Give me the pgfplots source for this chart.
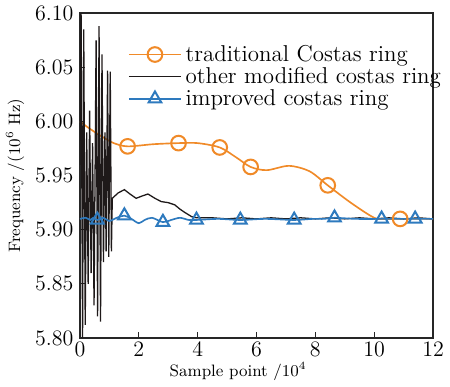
\documentclass[border=0pt]{standalone}
\usepackage{pgfplots}
\pgfplotsset{compat=1.18}
\definecolor{corange}{RGB}{240,138,40}
\definecolor{cblue}{RGB}{46,122,190}
\definecolor{cblack}{RGB}{30,25,25}
\begin{document}
\begin{tikzpicture}
\begin{axis}[
  scale only axis,
  width=192.5pt, height=177pt,
  xmin=0, xmax=12, ymin=5.80, ymax=6.10,
  xtick={0,2,...,12},
  ytick={5.80,5.85,5.90,5.95,6.00,6.05,6.10},
  yticklabel style={/pgf/number format/.cd,fixed,fixed zerofill,precision=2},
  tick align=inside, tick pos=left,
  major tick length=3pt,
  axis line style={line width=0.8pt, black!85},
  tick style={line width=0.7pt, black!85},
  ticklabel style={font=\fontsize{13}{15}\selectfont},
  xticklabel style={yshift=1pt},
  xlabel={Sample point /10$^4$},
  ylabel={Frequency /(10$^6$ Hz)},
  label style={font=\fontsize{9}{11}\selectfont},
  xlabel style={yshift=4pt, xshift=-10pt},
  ylabel style={yshift=-1pt},
  legend style={draw=none, fill=none, at={(0.13,0.92)}, anchor=north west,
    font=\fontsize{12.5}{13}\selectfont, row sep=-2.2pt, inner sep=1pt},
  legend cell align=left,
  legend image code/.code={
    \draw[mark repeat=2,mark phase=2] plot coordinates {(0cm,0cm)(0.5cm,0cm)(1cm,0cm)};},
]
% traditional Costas ring
\addplot[corange, line width=0.9pt, smooth, tension=0.5, forget plot,
  mark=o, mark size=4pt, mark options={line width=1.1pt, solid},
  mark indices={5,7,9,11,15,19}] coordinates {
(0,6.000)(0.35,5.993)(0.75,5.986)(1.15,5.980)(1.62,5.977)(2.5,5.979)(3.35,5.980)(4.0,5.980)(4.75,5.976)(5.3,5.967)(5.8,5.958)(6.35,5.955)(7.1,5.959)(7.8,5.954)(8.42,5.941)(9.2,5.925)(10.0,5.911)(10.4,5.910)(10.88,5.910)(12,5.910)};
% other modified costas ring
\addplot[cblack, line width=0.7pt, forget plot] coordinates {
(0,5.960)(0.04,6.100)(0.09,5.800)(0.13,6.085)(0.18,5.812)(0.23,5.990)(0.28,5.850)(0.33,6.010)(0.38,5.860)(0.43,5.980)(0.48,5.830)(0.55,6.075)(0.60,5.820)(0.65,6.088)(0.70,5.815)(0.75,6.062)(0.80,5.870)(0.85,5.990)(0.89,5.880)(0.94,6.047)(0.98,5.875)(1.03,6.046)(1.07,5.880)(1.10,5.929)
(1.3,5.934)(1.51,5.937)(1.7,5.933)(1.91,5.929)(2.1,5.931)(2.31,5.933)(2.55,5.929)(2.76,5.926)(3.0,5.925)(3.22,5.923)(3.4,5.919)(3.56,5.916)(3.8,5.912)(3.96,5.911)(4.5,5.911)(5.0,5.910)(5.5,5.911)(6.0,5.910)(6.5,5.911)(7.0,5.910)(7.5,5.911)(8.0,5.910)(8.5,5.911)(9.0,5.910)(9.5,5.911)(10.0,5.910)(10.5,5.911)(11.0,5.910)(11.5,5.911)(12,5.910)};
% improved costas ring
\addplot[cblue, line width=0.9pt, smooth, tension=0.5, forget plot,
  mark=triangle, mark size=4pt, mark options={line width=1.1pt, solid},
  mark indices={5,9,14,18,20,22,25,27,30}] coordinates {
(0,5.910)(0.2,5.911)(0.35,5.909)(0.45,5.911)(0.59,5.909)(0.8,5.911)(1.0,5.908)(1.25,5.911)(1.51,5.913)(1.75,5.910)(2.0,5.906)(2.2,5.909)(2.45,5.911)(2.82,5.907)(3.1,5.909)(3.4,5.911)(3.7,5.909)(3.96,5.909)(4.7,5.910)(5.45,5.909)(6.3,5.910)(7.28,5.909)(7.9,5.910)(8.3,5.910)(8.65,5.911)(9.4,5.910)(10.25,5.910)(10.8,5.910)(11.1,5.910)(11.39,5.910)(11.7,5.910)(12,5.910)};
\addlegendimage{corange, line width=0.9pt, mark=o, mark size=4pt, mark options={line width=1.1pt, solid}}
\addlegendentry{traditional Costas ring}
\addlegendimage{cblack, line width=0.8pt}
\addlegendentry{other modified costas ring}
\addlegendimage{cblue, line width=0.9pt, mark=triangle, mark size=4pt, mark options={line width=1.1pt, solid}}
\addlegendentry{improved costas ring}
\end{axis}
\end{tikzpicture}
\end{document}
